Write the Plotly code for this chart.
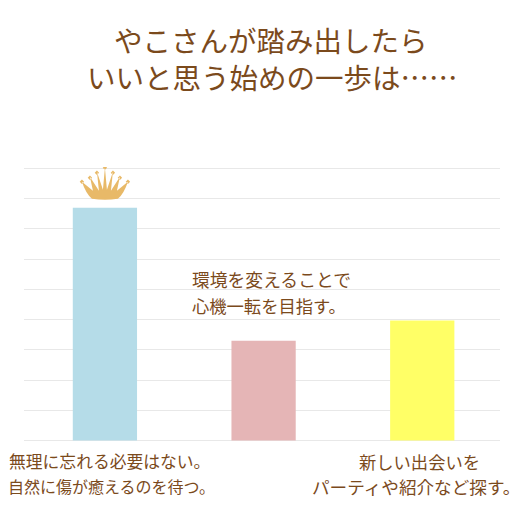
import plotly.graph_objects as go

W, H = 529, 528
FONT = "Noto Sans CJK JP"
BROWN = "#7b4a1c"
PLOT_LEFT, PLOT_RIGHT = 24, 500
PLOT_TOP, PLOT_BOTTOM = 166.5, 442.5

title_lines = ["やこさんが踏み出したら", "いいと思う始めの一歩は……"]
categories = [
    ["無理に忘れる必要はない。", "自然に傷が癒えるのを待つ。"],
    ["環境を変えることで", "心機一転を目指す。"],
    ["新しい出会いを", "パーティや紹介など探す。"],
]
values = [7.7, 3.3, 3.97]
bar_colors = ["#b5dce8", "#e5b5b6", "#ffff66"]
y_ticks = [0, 1, 2, 3, 4, 5, 6, 7, 8, 9]
positions = [0, 1, 2]


def px_x(x):
    return (x - PLOT_LEFT) / (PLOT_RIGHT - PLOT_LEFT)


def px_y(y):
    return (PLOT_BOTTOM - y) / (PLOT_BOTTOM - PLOT_TOP)


# crown is drawn in pixels relative to the top of the tallest bar
crown_body = (
    "M-13,9 Q-19,14 -23,26 L-12,17 L-15,31 L-6,17 L-8,36 L-2,18 L0,40 "
    "L2,18 L8,36 L6,17 L15,31 L12,17 L23,26 Q19,14 13,9 Q0,7 -13,9 Z"
)
crown_tips = ""
for tx, ty in [(-23, 26), (-15, 30), (-8, 35), (0, 40), (8, 35), (15, 30), (23, 26)]:
    crown_tips += f"M{tx - 2.2},{ty} L{tx},{ty + 2.2} L{tx + 2.2},{ty} L{tx},{ty - 2.2} Z "

fig = go.Figure(
    go.Bar(x=positions, y=values, marker=dict(color=bar_colors, line_width=0), width=0.405)
)

fig.add_shape(
    type="path",
    path=crown_body + " " + crown_tips,
    xref="x",
    yref="y",
    xsizemode="pixel",
    ysizemode="pixel",
    xanchor=positions[0],
    yanchor=values[0],
    fillcolor="#e8b968",
    line_width=0,
)


def add_text(text, x, y, size, xanchor="center"):
    fig.add_annotation(
        text=text, xref="paper", yref="paper",
        x=px_x(x), y=px_y(y), xanchor=xanchor, yanchor="middle",
        showarrow=False, font=dict(size=size, color=BROWN, family=FONT),
    )


add_text(title_lines[0], 271, 39, 28.5)
add_text(title_lines[1], 272, 76, 28.5)

add_text(categories[0][0], 109, 462, 16.8)
add_text(categories[0][1], 111, 487, 16)
add_text(categories[1][0], 190, 279, 17.8, xanchor="left")
add_text(categories[1][1], 190, 306, 17.3, xanchor="left")
add_text(categories[2][0], 419, 462, 17.3)
add_text(categories[2][1], 416, 487, 17.6)

fig.update_layout(
    width=W,
    height=H,
    margin=dict(l=PLOT_LEFT, r=W - PLOT_RIGHT, t=PLOT_TOP, b=H - PLOT_BOTTOM),
    paper_bgcolor="white",
    plot_bgcolor="white",
    showlegend=False,
    xaxis=dict(range=[-0.51, 2.49], visible=False, fixedrange=True),
    yaxis=dict(
        range=[-0.05, 9.05],
        tickvals=y_ticks,
        showticklabels=False,
        ticks="",
        gridcolor="#e8e8e8",
        gridwidth=1.2,
        zeroline=False,
        fixedrange=True,
    ),
)

fig.write_html(
    "out.html",
    config={"displayModeBar": False},
    post_script="document.body.style.margin='0';document.body.style.overflow='hidden';",
)
